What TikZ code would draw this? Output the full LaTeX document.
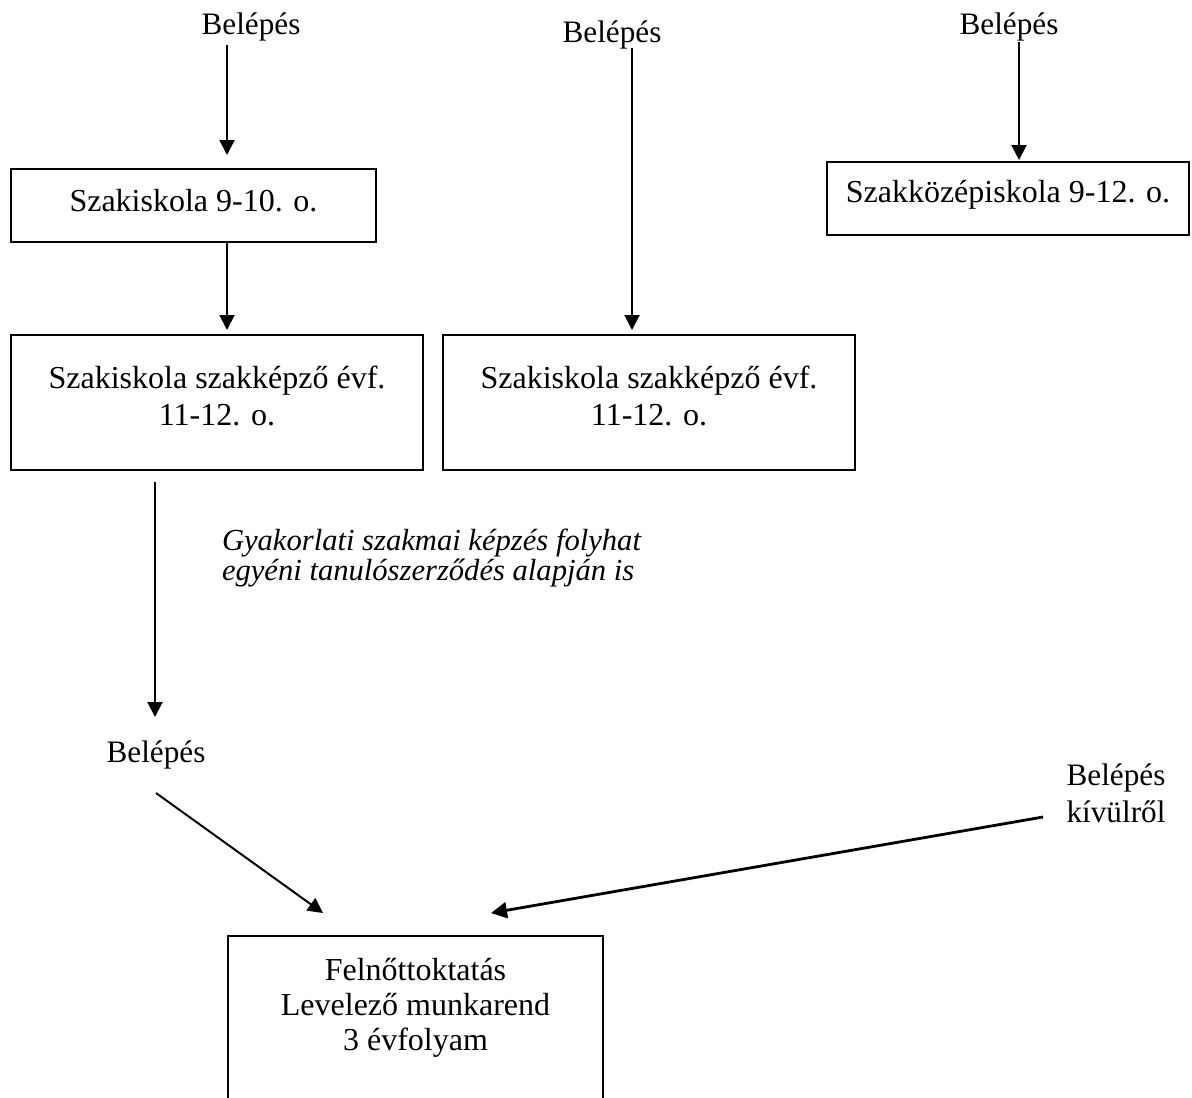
\documentclass[tikz,border=0pt]{standalone}
\usepackage{fontspec}
\setmainfont{Liberation Serif}
\usetikzlibrary{arrows.meta}
\newcommand\myup{\rule{0pt}{14pt}}
\begin{document}
\begin{tikzpicture}[x=0.5pt,y=-0.5pt,
  every node/.style={inner sep=0pt, outer sep=0pt},
  lbl/.style={font=\fontsize{15.6}{18.5}\selectfont, align=center, anchor=north},
  boxtxt/.style={font=\fontsize{16}{18.5}\selectfont, align=center, anchor=north},
  itxt/.style={font=\fontsize{15.3}{14}\selectfont\itshape, align=left, anchor=north west},
  frame/.style={draw, line width=1.1pt, anchor=north west},
  arr/.style={line width=1pt, -{Triangle[length=7.5pt,width=7.5pt]}},
  arrthick/.style={line width=1.4pt, -{Triangle[length=8pt,width=8pt]}}
]
\useasboundingbox (0,0) rectangle (1192,1097);
\clip (0,0) rectangle (1192,1097);

% boxes
\node[frame, minimum width=182.5pt, minimum height=36.5pt] (boxA) at (11,169) {};
\node[frame, minimum width=181pt, minimum height=36.5pt] (boxB) at (827,162) {};
\node[frame, minimum width=206pt, minimum height=67.5pt] (boxC) at (11,335) {};
\node[frame, minimum width=206pt, minimum height=67.5pt] (boxD) at (443,335) {};
\node[frame, minimum width=187.5pt, minimum height=100pt] (boxE) at (228,936) {};

% texts
\node[lbl] (in1) at (251,7) {\myup Belépés};
\node[lbl] (in2) at (612,15) {\myup Belépés};
\node[lbl] (in3) at (1009,7) {\myup Belépés};
\node[lbl] (in4) at (156,734) {\myup Belépés};
\node[lbl] (in5) at (1116,757) {\myup Belépés\\kívülről};

\node[boxtxt] (tA) at (193.5,183) {\myup Szakiskola 9-10. o.};
\node[boxtxt] (tB) at (1008,174) {\myup Szakközépiskola 9-12. o.};
\node[boxtxt] (tC) at (217,360) {\myup Szakiskola szakképző évf.\\11-12. o.};
\node[boxtxt] (tD) at (649,360) {\myup Szakiskola szakképző évf.\\11-12. o.};
\node[itxt] (note) at (222,522) {\myup Gyakorlati szakmai képzés folyhat\\egyéni tanulószerződés alapján is};
\node[boxtxt, font=\fontsize{16}{17.5}\selectfont] (tE) at (415.5,952) {\myup Felnőttoktatás\\Levelező munkarend\\3 évfolyam};

% arrow end points
\coordinate (a1s) at (227,45);   \coordinate (a1e) at (227,155);
\coordinate (a2s) at (227,241);  \coordinate (a2e) at (227,330);
\coordinate (a3s) at (632,48);   \coordinate (a3e) at (632,330);
\coordinate (a4s) at (1019,42);  \coordinate (a4e) at (1019,160);
\coordinate (a5s) at (155,482);  \coordinate (a5e) at (155,717);
\coordinate (a6s) at (156,793);  \coordinate (a6e) at (323,913);
\coordinate (a7s) at (1043,817); \coordinate (a7e) at (491,913);

\draw[arr] (a1s) -- (a1e);
\draw[arr] (a2s) -- (a2e);
\draw[arr] (a3s) -- (a3e);
\draw[arr] (a4s) -- (a4e);
\draw[arr] (a5s) -- (a5e);
\draw[arr] (a6s) -- (a6e);
\draw[arrthick] (a7s) -- (a7e);
\end{tikzpicture}
\end{document}
